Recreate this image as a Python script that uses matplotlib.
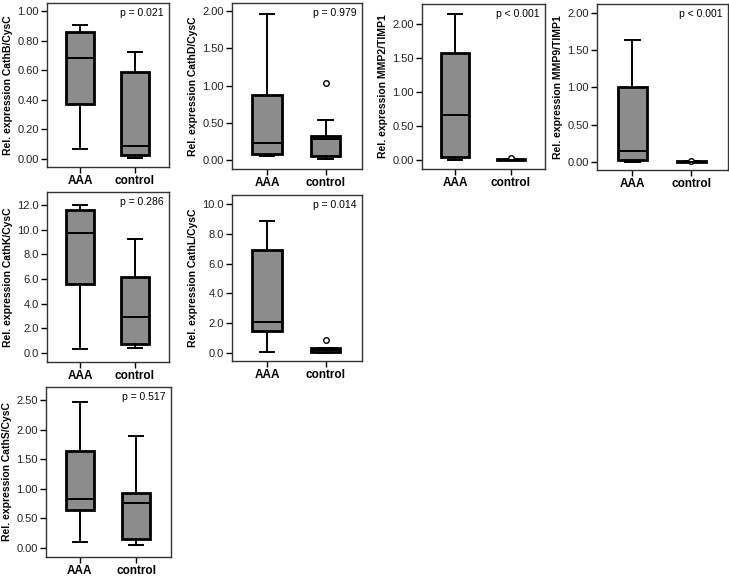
import matplotlib.pyplot as plt
import matplotlib.ticker as mticker

plt.rcParams['font.family'] = ['Liberation Sans', 'DejaVu Sans']

groups = ['AAA', 'control']

# per panel: (whislo, q1, med, q3, whishi, outliers) for AAA and control
cathb_aaa = [0.065, 0.37, 0.685, 0.86, 0.905, []]
cathb_ctrl = [0.01, 0.03, 0.09, 0.59, 0.72, []]
cathd_aaa = [0.05, 0.08, 0.23, 0.87, 1.96, []]
cathd_ctrl = [0.02, 0.06, 0.28, 0.32, 0.54, [1.04]]
mmp2_aaa = [0.0, 0.05, 0.66, 1.57, 2.14, []]
mmp2_ctrl = [0.0, 0.002, 0.008, 0.012, 0.015, [0.03]]
mmp9_aaa = [0.0, 0.02, 0.14, 1.01, 1.64, []]
mmp9_ctrl = [0.0, 0.001, 0.003, 0.006, 0.008, [0.01]]
cathk_aaa = [0.3, 5.6, 9.7, 11.6, 12.0, []]
cathk_ctrl = [0.4, 0.75, 2.9, 6.2, 9.2, []]
cathl_aaa = [0.05, 1.45, 2.05, 6.9, 8.85, []]
cathl_ctrl = [0.0, 0.05, 0.2, 0.3, 0.35, [0.85]]
caths_aaa = [0.1, 0.65, 0.83, 1.64, 2.47, []]
caths_ctrl = [0.06, 0.16, 0.76, 0.93, 1.90, []]

ylabels = ['Rel. expression CathB/CysC', 'Rel. expression CathD/CysC',
           'Rel. expression MMP2/TIMP1', 'Rel. expression MMP9/TIMP1',
           'Rel. expression CathK/CysC', 'Rel. expression CathL/CysC',
           'Rel. expression CathS/CysC']
pvalues = ['p = 0.021', 'p = 0.979', 'p < 0.001', 'p < 0.001',
           'p = 0.286', 'p = 0.014', 'p = 0.517']
series = [(cathb_aaa, cathb_ctrl), (cathd_aaa, cathd_ctrl),
          (mmp2_aaa, mmp2_ctrl), (mmp9_aaa, mmp9_ctrl),
          (cathk_aaa, cathk_ctrl), (cathl_aaa, cathl_ctrl),
          (caths_aaa, caths_ctrl)]
yticks = [[0, 0.2, 0.4, 0.6, 0.8, 1.0], [0, 0.5, 1.0, 1.5, 2.0],
          [0, 0.5, 1.0, 1.5, 2.0], [0, 0.5, 1.0, 1.5, 2.0],
          [0, 2, 4, 6, 8, 10, 12], [0, 2, 4, 6, 8, 10],
          [0, 0.5, 1.0, 1.5, 2.0, 2.5]]
yfmt = ['%.2f', '%.2f', '%.2f', '%.2f', '%.1f', '%.1f', '%.2f']
ylims = [(-0.054, 1.054), (-0.12, 2.107), (-0.13, 2.29), (-0.11, 2.12),
         (-0.73, 13.05), (-0.54, 10.6), (-0.15, 2.72)]

W, H = 729, 577
# axes boxes in pixels: left, right, top, bottom
boxes = [(47, 169, 3, 167), (232, 362, 3, 169), (422, 545, 4, 169),
         (597, 728, 4, 170), (47, 169, 192, 362), (232, 362, 195, 361),
         (46, 171, 387, 557)]

fig = plt.figure(figsize=(W / 100, H / 100), dpi=100)

for i, (aaa, ctrl) in enumerate(series):
    l, r, t, b = boxes[i]
    ax = fig.add_axes([l / W, 1 - b / H, (r - l) / W, (b - t) / H])
    stats = []
    for name, s in zip(groups, (aaa, ctrl)):
        stats.append(dict(label=name, whislo=s[0], q1=s[1], med=s[2],
                          q3=s[3], whishi=s[4], fliers=s[5]))
    ax.bxp(stats, positions=[1, 2], widths=0.5, capwidths=0.25,
           patch_artist=True,
           boxprops=dict(facecolor='#8c8c8c', edgecolor='black',
                         linewidth=2.0),
           medianprops=dict(color='black', linewidth=1.4),
           whiskerprops=dict(color='black', linewidth=1.4),
           capprops=dict(color='black', linewidth=1.4),
           flierprops=dict(marker='o', markersize=4, markerfacecolor='white',
                           markeredgecolor='black', markeredgewidth=1.0))
    ax.set_xlim(0.4, 2.62)
    ax.set_ylim(*ylims[i])
    ax.set_yticks(yticks[i])
    ax.yaxis.set_major_formatter(mticker.FormatStrFormatter(yfmt[i]))
    ax.set_xticks([1, 2])
    ax.set_xticklabels(groups, fontsize=8.5, fontweight='bold')
    ax.tick_params(axis='y', labelsize=8, length=4, width=1, pad=2,
                   labelcolor='#222222')
    ax.tick_params(axis='x', length=4, width=1, pad=2)
    for sp in ax.spines.values():
        sp.set_linewidth(1.0)
        sp.set_color('#333333')
    ax.set_ylabel(ylabels[i], fontsize=7.5, fontweight='bold', labelpad=3)
    ax.text(0.96, 0.97, pvalues[i], transform=ax.transAxes, ha='right',
            va='top', fontsize=7.5)

fig.savefig('out.png', dpi=100)
